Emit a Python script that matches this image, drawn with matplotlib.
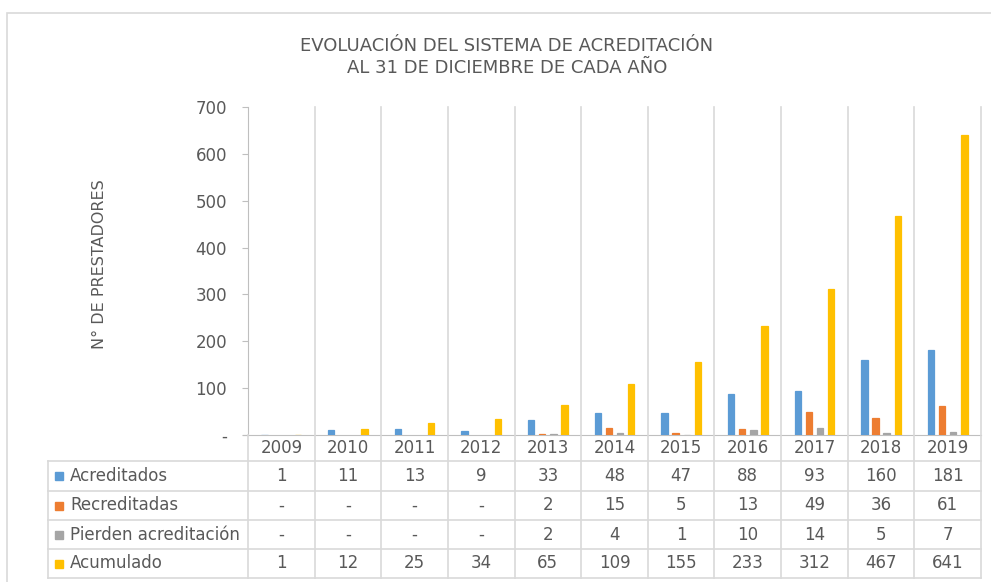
import numpy as np
import matplotlib
matplotlib.use("Agg")
import matplotlib.pyplot as plt
from matplotlib.lines import Line2D
from matplotlib.patches import Rectangle
from matplotlib.transforms import blended_transform_factory

anios = ["2009", "2010", "2011", "2012", "2013", "2014", "2015", "2016", "2017", "2018", "2019"]
acreditados = [1, 11, 13, 9, 33, 48, 47, 88, 93, 160, 181]
recreditadas = [None, None, None, None, 2, 15, 5, 13, 49, 36, 61]
pierden = [None, None, None, None, 2, 4, 1, 10, 14, 5, 7]
acumulado = [1, 12, 25, 34, 65, 109, 155, 233, 312, 467, 641]

series = ["Acreditados", "Recreditadas", "Pierden acreditación", "Acumulado"]
valores = [acreditados, recreditadas, pierden, acumulado]
colores = ["#5B9BD5", "#ED7D31", "#A5A5A5", "#FFC000"]

TXT = "#595959"
GRID = "#D9D9D9"
W, H = 991, 582

def fx(px):
    return px / W

def fy(py):
    return 1 - py / H

fig = plt.figure(figsize=(W / 100, H / 100), dpi=100)
ax = fig.add_axes([fx(248), fy(435), (981 - 248) / W, (435 - 107) / H])

# marco exterior del gráfico
fig.add_artist(Rectangle((fx(7), -0.1), 1.2, fy(13) + 0.1, transform=fig.transFigure,
                         fill=False, edgecolor="#D9D9D9", lw=1.2))

x = np.arange(len(anios))
paso = 0.167
ancho = 0.095
for i, (vals, col) in enumerate(zip(valores, colores)):
    v = [0 if a is None else a for a in vals]
    # borde del mismo color para que los valores pequeños se vean, como en Excel
    ax.bar(x + (i - 1.5) * paso, v, width=ancho, color=col, edgecolor=col,
           linewidth=[0 if a is None else 0.9 for a in vals], zorder=3)

ax.set_xlim(-0.5, len(anios) - 0.5)
ax.set_ylim(0, 700)
ax.set_yticks(range(0, 701, 100))
ax.set_yticklabels(["-" if t == 0 else str(t) for t in range(0, 701, 100)])
ax.set_xticks([])
ax.tick_params(axis="y", direction="out", length=4, color="#BFBFBF", labelcolor=TXT,
               labelsize=12, pad=11)
for s in ["top", "right"]:
    ax.spines[s].set_visible(False)
ax.spines["left"].set_color("#BFBFBF")
ax.spines["bottom"].set_color("#BFBFBF")
ax.spines["bottom"].set_bounds(-0.58, len(anios) - 0.5)

fig.text(fx(99), fy(264), "N° DE PRESTADORES", rotation=90, ha="center", va="center",
         fontsize=11.5, color=TXT)

fig.text(fx(507), fy(57), "EVOLUACIÓN DEL SISTEMA DE ACREDITACIÓN\nAL 31 DE DICIEMBRE DE CADA AÑO",
         ha="center", va="center", fontsize=13, color=TXT, linespacing=1.35)

# tabla de datos
tr = blended_transform_factory(ax.transData, fig.transFigure)
for b in np.arange(-0.5, len(anios)):
    fig.add_artist(Line2D([b, b], [fy(107) if b > -0.5 else fy(435), fy(578)],
                          transform=tr, color=GRID, lw=1.2, zorder=1))
for py in [461, 491, 520, 549, 578]:
    fig.add_artist(Line2D([fx(48), fx(981)], [fy(py), fy(py)], transform=fig.transFigure,
                          color=GRID, lw=1.2))
fig.add_artist(Line2D([fx(48), fx(48)], [fy(461), fy(578)], transform=fig.transFigure,
                      color=GRID, lw=1.2))

for j, a in enumerate(anios):
    fig.text(j, fy(448), a, transform=tr, ha="center", va="center", fontsize=12, color=TXT)

filas_y = [476, 505.5, 534.5, 563.5]
for nombre, vals, col, py in zip(series, valores, colores, filas_y):
    fig.add_artist(Rectangle((fx(55), fy(py + 4)), 8 / W, 8 / H, transform=fig.transFigure,
                             color=col))
    fig.text(fx(70), fy(py), nombre, ha="left", va="center", fontsize=12, color=TXT)
    for j, v in enumerate(vals):
        fig.text(j, fy(py), "-" if v is None else str(v), transform=tr, ha="center",
                 va="center", fontsize=12, color=TXT)

fig.savefig("out.png", dpi=100)
